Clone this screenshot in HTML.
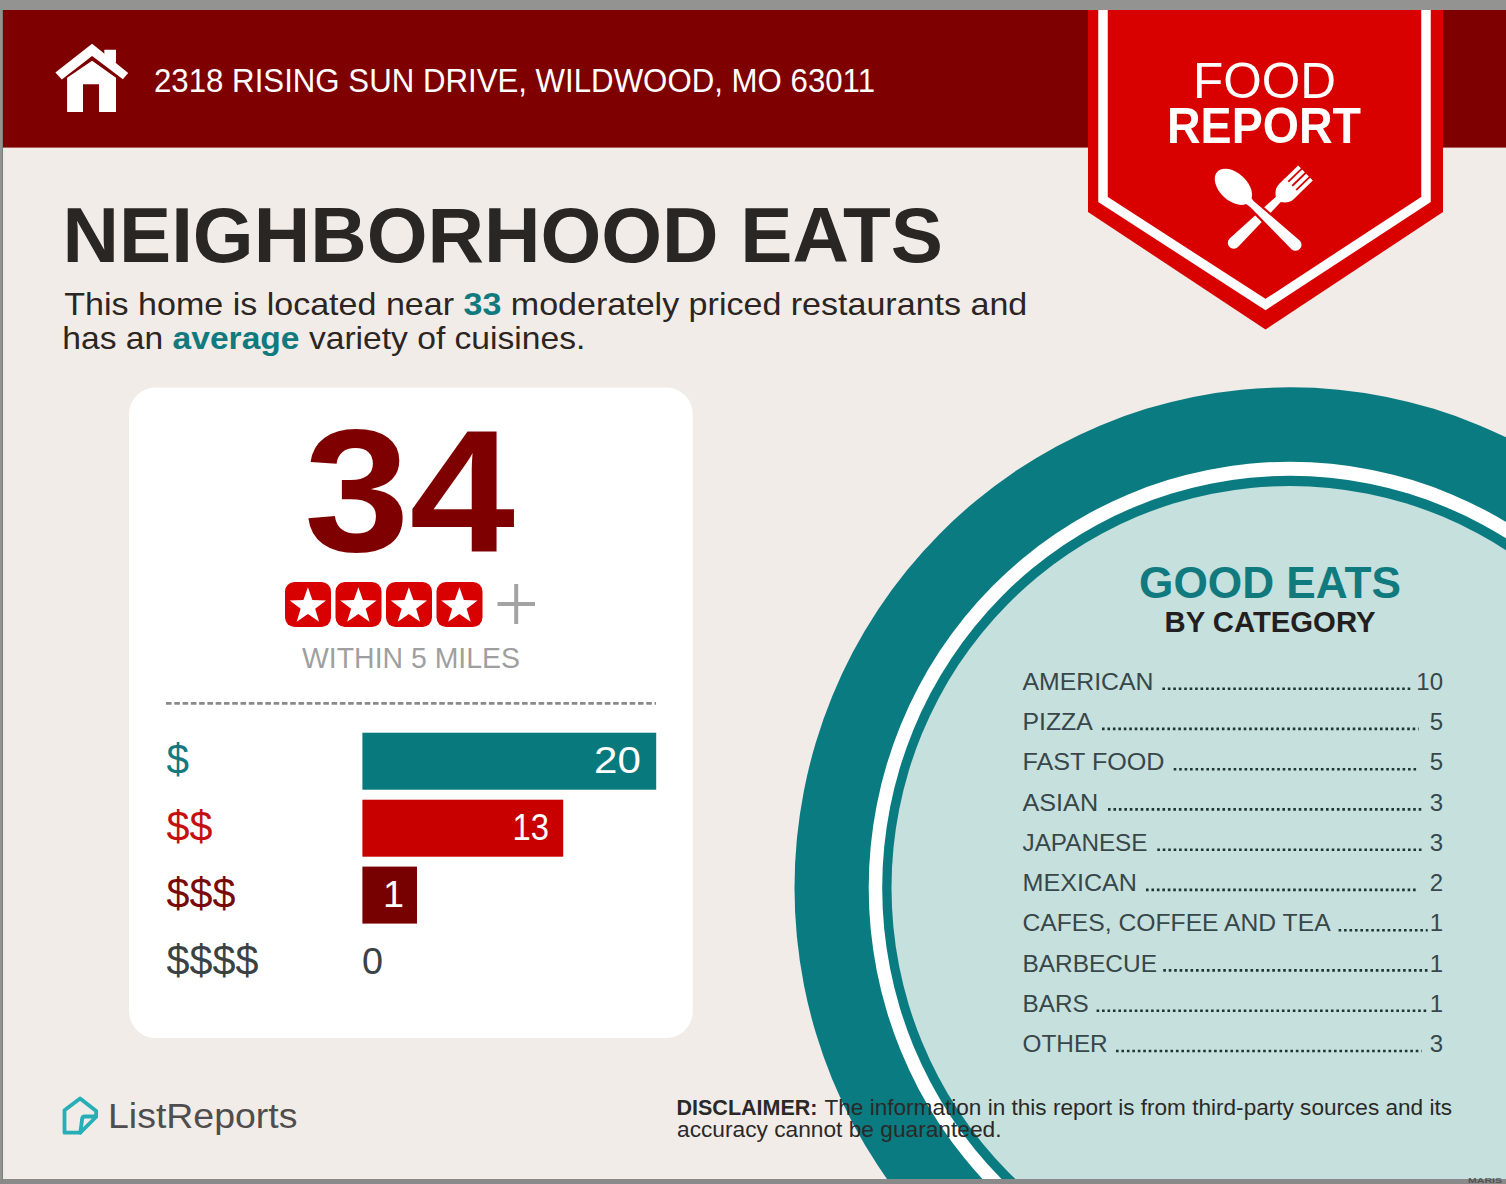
<!DOCTYPE html>
<html><head><meta charset="utf-8">
<style>
html,body{margin:0;padding:0;width:1506px;height:1184px;overflow:hidden;background:#8d8d8d;}
svg{display:block;position:absolute;left:0;top:0;}
text{font-family:"Liberation Sans",sans-serif;}
</style></head>
<body>
<svg width="1506" height="1184" viewBox="0 0 1506 1184">
<defs>
<clipPath id="pg"><rect x="3" y="10" width="1503" height="1169"/></clipPath>
</defs>
<rect x="0" y="0" width="1506" height="1184" fill="#939392"/>
<g clip-path="url(#pg)">
<rect x="3" y="10" width="1503" height="1169" fill="#f1ece8"/>
<rect x="3" y="147" width="2" height="1032" fill="#ebebea"/>
<!-- header -->
<rect x="3" y="10" width="1503" height="137.6" fill="#7f0000"/>
<!-- house icon -->
<g fill="#ffffff">
  <polygon points="92.1,43.8 128.2,73 122.9,79.2 92.1,56 61.8,79.4 55.4,72.5"/>
  <polygon points="104.3,49.7 116,49.7 116,63 104.3,56"/>
  <path d="M67.1,77.8 L92.1,60.8 L116,77.8 L116,112 L99,112 L99,84.2 L83,84.2 L83,112 L67.1,112 Z"/>
</g>
<text x="154" y="92" font-size="33.4" fill="#ffffff" textLength="721" lengthAdjust="spacingAndGlyphs">2318 RISING SUN DRIVE, WILDWOOD, MO 63011</text>

<!-- big circle -->
<ellipse cx="1290" cy="887.8" rx="495.5" ry="500.5" fill="#0a7b80"/>
<ellipse cx="1290" cy="887.8" rx="421.3" ry="426.1" fill="#ffffff"/>
<ellipse cx="1290" cy="887.8" rx="407.8" ry="412" fill="#0a7b80"/>
<ellipse cx="1290" cy="887.8" rx="398.5" ry="401.8" fill="#c6e0dd"/>

<!-- banner -->
<polygon points="1088,10 1443,10 1443,212 1265.5,329.5 1088,212" fill="#d90000"/>
<polyline points="1103,10 1103,199.5 1265.5,304.5 1426,199.5 1426,10" fill="none" stroke="#ffffff" stroke-width="9.5" stroke-linejoin="miter"/>
<text x="1193" y="98.1" font-size="50.8" fill="#ffffff" textLength="143" lengthAdjust="spacingAndGlyphs">FOOD</text>
<text x="1167" y="143.2" font-size="50.3" font-weight="bold" fill="#ffffff" textLength="194" lengthAdjust="spacingAndGlyphs">REPORT</text>
<!-- fork -->
<g fill="#ffffff" transform="translate(1305.5,173) rotate(135.8)">
  <path d="M0,-10.5 L19,-10.5 L19,-6.6 L0,-6.6 Z M0,-4.8 L19,-4.8 L19,-0.9 L0,-0.9 Z M0,0.9 L19,0.9 L19,4.8 L0,4.8 Z M0,6.6 L19,6.6 L19,10.5 L0,10.5 Z"/>
  <path d="M18.5,-10.5 L26,-10.5 C33,-10.5 36,-6 38,-3.6 L100,-6 A6,6 0 0 1 100,6 L38,3.6 C36,6 33,10.5 26,10.5 L18.5,10.5 Z"/>
</g>
<!-- spoon -->
<g fill="#ffffff" transform="translate(1217.3,171.8) rotate(43)">
  <path d="M46,-4.4 L107,-7.1 A7.1,7.1 0 0 1 107,7.1 L46,4.4 Z" stroke="#d90000" stroke-width="2.2"/>
  <ellipse cx="22" cy="0" rx="22" ry="13.8"/><path d="M38,-6 Q43,-3.4 48,-3.2 L48,3.2 Q43,3.4 38,6 Z"/>
</g>

<!-- heading -->
<text x="62.5" y="262.2" font-size="78.6" font-weight="bold" fill="#2a2624" textLength="880.5" lengthAdjust="spacingAndGlyphs">NEIGHBORHOOD EATS</text>
<text x="64.3" y="315" font-size="31.6" fill="#2b2523" textLength="963" lengthAdjust="spacingAndGlyphs">This home is located near <tspan font-weight="bold" fill="#117a7e">33</tspan> moderately priced restaurants and</text>
<text x="62.3" y="349.2" font-size="31.6" fill="#2b2523" textLength="523" lengthAdjust="spacingAndGlyphs">has an <tspan font-weight="bold" fill="#117a7e">average</tspan> variety of cuisines.</text>

<!-- card -->
<rect x="129" y="387.6" width="563.8" height="650.4" rx="26" ry="27" fill="#ffffff"/>
<text x="304" y="550.6" font-size="174.5" font-weight="bold" fill="#7f0000" textLength="211" lengthAdjust="spacingAndGlyphs">34</text>
<g>
  <rect x="285" y="582" width="46" height="45" rx="9.5" fill="#d80000"/>
  <rect x="335.5" y="582" width="46" height="45" rx="9.5" fill="#d80000"/>
  <rect x="386" y="582" width="46" height="45" rx="9.5" fill="#d80000"/>
  <rect x="436.5" y="582" width="46" height="45" rx="9.5" fill="#d80000"/>
</g>
<g fill="#ffffff"><polygon points="307.90,587.20 312.39,600.12 326.07,600.40 315.17,608.66 319.13,621.75 307.90,613.94 296.67,621.75 300.63,608.66 289.73,600.40 303.41,600.12"/><polygon points="358.40,587.20 362.89,600.12 376.57,600.40 365.67,608.66 369.63,621.75 358.40,613.94 347.17,621.75 351.13,608.66 340.23,600.40 353.91,600.12"/><polygon points="408.90,587.20 413.39,600.12 427.07,600.40 416.17,608.66 420.13,621.75 408.90,613.94 397.67,621.75 401.63,608.66 390.73,600.40 404.41,600.12"/><polygon points="459.40,587.20 463.89,600.12 477.57,600.40 466.67,608.66 470.63,621.75 459.40,613.94 448.17,621.75 452.13,608.66 441.23,600.40 454.91,600.12"/></g>
<path d="M497.5,604 H535 M516.2,584 V624" stroke="#a3a3a3" stroke-width="4" fill="none"/>
<text x="302" y="667.9" font-size="29.1" fill="#9f9f9f" textLength="218" lengthAdjust="spacingAndGlyphs">WITHIN 5 MILES</text>
<line x1="166" y1="703.4" x2="656" y2="703.4" stroke="#8a8a8a" stroke-width="2.8" stroke-dasharray="5.6,2.68"/>

<!-- bars -->
<rect x="362.4" y="732.7" width="293.8" height="57" fill="#087a7e"/>
<rect x="362.4" y="799.7" width="200.8" height="57" fill="#c80000"/>
<rect x="362.4" y="866.6" width="54.6" height="57" fill="#770000"/>
<text x="166.5" y="774.3" font-size="42.6" fill="#117a7e" textLength="22.5" lengthAdjust="spacingAndGlyphs">$</text>
<text x="166.5" y="841.3" font-size="42.6" fill="#c41010" textLength="46" lengthAdjust="spacingAndGlyphs">$$</text>
<text x="166.5" y="908.3" font-size="42.6" fill="#7a0a0a" textLength="69" lengthAdjust="spacingAndGlyphs">$$$</text>
<text x="166.5" y="975" font-size="42.6" fill="#3a4244" textLength="92" lengthAdjust="spacingAndGlyphs">$$$$</text>
<text x="594" y="772.7" font-size="37.8" fill="#ffffff" textLength="46.8" lengthAdjust="spacingAndGlyphs">20</text>
<text x="512.5" y="840.2" font-size="37.8" fill="#ffffff" textLength="36.5" lengthAdjust="spacingAndGlyphs">13</text>
<text x="404" y="907" font-size="37.8" fill="#ffffff" text-anchor="end">1</text>
<text x="362" y="974" font-size="37.8" fill="#3a4244">0</text>

<!-- good eats -->
<text x="1270" y="598.4" font-size="44.3" font-weight="bold" fill="#117a7e" text-anchor="middle" textLength="262" lengthAdjust="spacingAndGlyphs">GOOD EATS</text>
<text x="1270" y="631.7" font-size="29" font-weight="bold" fill="#231f20" text-anchor="middle" textLength="211" lengthAdjust="spacingAndGlyphs">BY CATEGORY</text>
<g font-size="24" fill="#37474a"><text x="1022.5" y="689.9" textLength="130.9" lengthAdjust="spacingAndGlyphs">AMERICAN</text><text x="1443" y="689.9" text-anchor="end">10</text><line x1="1162.4" y1="688.7" x2="1410.4" y2="688.7" stroke="#1f3434" stroke-width="2.6" stroke-dasharray="2.6,2.85"/><text x="1022.5" y="730.1" textLength="70.3" lengthAdjust="spacingAndGlyphs">PIZZA</text><text x="1443" y="730.1" text-anchor="end">5</text><line x1="1102.0" y1="728.9" x2="1418.7" y2="728.9" stroke="#1f3434" stroke-width="2.6" stroke-dasharray="2.6,2.85"/><text x="1022.5" y="770.4" textLength="142.0" lengthAdjust="spacingAndGlyphs">FAST FOOD</text><text x="1443" y="770.4" text-anchor="end">5</text><line x1="1173.7" y1="769.2" x2="1418.7" y2="769.2" stroke="#1f3434" stroke-width="2.6" stroke-dasharray="2.6,2.85"/><text x="1022.5" y="810.6" textLength="75.6" lengthAdjust="spacingAndGlyphs">ASIAN</text><text x="1443" y="810.6" text-anchor="end">3</text><line x1="1108.0" y1="809.4" x2="1421.7" y2="809.4" stroke="#1f3434" stroke-width="2.6" stroke-dasharray="2.6,2.85"/><text x="1022.5" y="850.9" textLength="125.0" lengthAdjust="spacingAndGlyphs">JAPANESE</text><text x="1443" y="850.9" text-anchor="end">3</text><line x1="1157.3" y1="849.7" x2="1421.7" y2="849.7" stroke="#1f3434" stroke-width="2.6" stroke-dasharray="2.6,2.85"/><text x="1022.5" y="891.1" textLength="114.5" lengthAdjust="spacingAndGlyphs">MEXICAN</text><text x="1443" y="891.1" text-anchor="end">2</text><line x1="1146.0" y1="889.9" x2="1417.8" y2="889.9" stroke="#1f3434" stroke-width="2.6" stroke-dasharray="2.6,2.85"/><text x="1022.5" y="931.4" textLength="308.1" lengthAdjust="spacingAndGlyphs">CAFES, COFFEE AND TEA</text><text x="1443" y="931.4" text-anchor="end">1</text><line x1="1338.6" y1="930.2" x2="1427.7" y2="930.2" stroke="#1f3434" stroke-width="2.6" stroke-dasharray="2.6,2.85"/><text x="1022.5" y="971.6" textLength="134.5" lengthAdjust="spacingAndGlyphs">BARBECUE</text><text x="1443" y="971.6" text-anchor="end">1</text><line x1="1163.3" y1="970.4" x2="1427.7" y2="970.4" stroke="#1f3434" stroke-width="2.6" stroke-dasharray="2.6,2.85"/><text x="1022.5" y="1011.9" textLength="66.1" lengthAdjust="spacingAndGlyphs">BARS</text><text x="1443" y="1011.9" text-anchor="end">1</text><line x1="1096.6" y1="1010.7" x2="1427.7" y2="1010.7" stroke="#1f3434" stroke-width="2.6" stroke-dasharray="2.6,2.85"/><text x="1022.5" y="1052.2" textLength="85.2" lengthAdjust="spacingAndGlyphs">OTHER</text><text x="1443" y="1052.2" text-anchor="end">3</text><line x1="1116.0" y1="1051.0" x2="1421.7" y2="1051.0" stroke="#1f3434" stroke-width="2.6" stroke-dasharray="2.6,2.85"/></g>

<!-- footer -->
<g fill="none" stroke="#27aeb6" stroke-width="3.8" stroke-linejoin="round" stroke-linecap="round">
  <path d="M80.1,1098.4 L96.2,1111.1 L96,1117 L80.3,1132.7 L64.5,1132.7 L64.5,1110.3 Z"/>
  <path d="M96,1116.5 L85,1116.5 Q82,1116.5 82,1120 L80.3,1132.7"/>
</g>
<text x="108" y="1128" font-size="34.5" fill="#4f4d4d" textLength="189.5" lengthAdjust="spacingAndGlyphs">ListReports</text>
<text x="676.5" y="1114.8" font-size="21.5" font-weight="bold" fill="#2a2928" textLength="141" lengthAdjust="spacingAndGlyphs">DISCLAIMER:</text><text x="824.5" y="1114.8" font-size="21.5" fill="#2a2928" textLength="627.5" lengthAdjust="spacingAndGlyphs">The information in this report is from third-party sources and its</text>
<text x="677" y="1137.3" font-size="21.5" fill="#2a2928" textLength="324.5" lengthAdjust="spacingAndGlyphs">accuracy cannot be guaranteed.</text>
</g>
<rect x="0" y="1179" width="1506" height="5" fill="#8a8a8a"/>
<rect x="2" y="10" width="1" height="1169" fill="#7d7d7d"/>
<text x="1468" y="1183" font-size="8" font-weight="bold" fill="#3a3a3a" textLength="34" lengthAdjust="spacingAndGlyphs" opacity="0.7">MARIS</text>
</svg>
</body></html>
